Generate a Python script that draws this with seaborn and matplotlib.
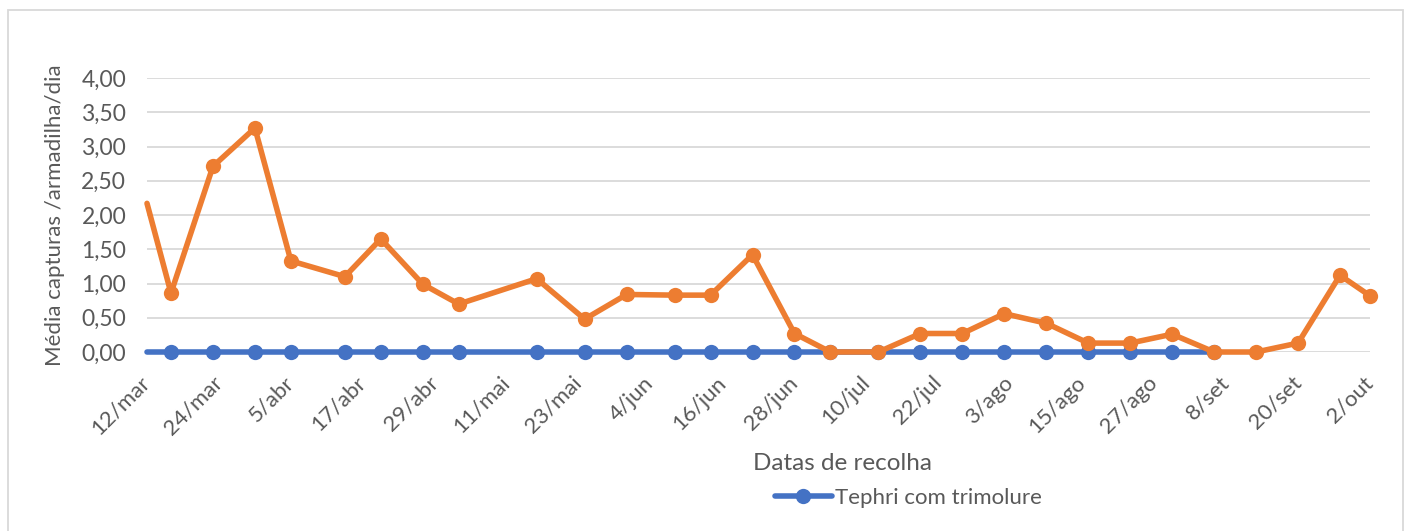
import matplotlib
matplotlib.use("Agg")
import matplotlib.pyplot as plt
from matplotlib.patches import Rectangle
import matplotlib.transforms as mtransforms
import seaborn as sns
import pandas as pd

# ---- data ----
orange_dates = ["2021-03-12", "2021-03-16", "2021-03-23", "2021-03-30", "2021-04-05",
                "2021-04-14", "2021-04-20", "2021-04-27", "2021-05-03", "2021-05-16",
                "2021-05-24", "2021-05-31", "2021-06-08", "2021-06-14", "2021-06-21",
                "2021-06-28", "2021-07-04", "2021-07-12", "2021-07-19", "2021-07-26",
                "2021-08-02", "2021-08-09", "2021-08-16", "2021-08-23", "2021-08-30",
                "2021-09-06", "2021-09-13", "2021-09-20", "2021-09-27", "2021-10-02"]
orange_values = [2.17, 0.86, 2.71, 3.27, 1.33, 1.10, 1.65, 0.99, 0.70, 1.07,
                 0.48, 0.84, 0.83, 0.83, 1.42, 0.27, 0.00, 0.00, 0.27, 0.27,
                 0.56, 0.42, 0.13, 0.13, 0.26, 0.00, 0.00, 0.13, 1.12, 0.82]

blue_dates = orange_dates[:26]
blue_values = [0.0] * 26
blue_label = "Tephri com trimolure"

tick_labels = ["12/mar", "24/mar", "5/abr", "17/abr", "29/abr", "11/mai", "23/mai",
               "4/jun", "16/jun", "28/jun", "10/jul", "22/jul", "3/ago", "15/ago",
               "27/ago", "8/set", "20/set", "2/out"]
x_start, x_end = "2021-03-12", "2021-10-02"
y_ticks = [0.0, 0.5, 1.0, 1.5, 2.0, 2.5, 3.0, 3.5, 4.0]

# ---- style ----
sns.set_theme(style="white")
plt.rcParams["font.family"] = ["Lato", "DejaVu Sans"]
txt = "#595959"
blue = "#4472C4"
orange = "#ED7D31"
grid = "#D9D9D9"

fig = plt.figure(figsize=(14.08, 5.31), dpi=100)
ax = fig.add_axes([147 / 1408, 1 - 352 / 531, (1370 - 147) / 1408, (352 - 78) / 531])

df_b = pd.DataFrame({"date": pd.to_datetime(blue_dates), "v": blue_values})
df_o = pd.DataFrame({"date": pd.to_datetime(orange_dates), "v": orange_values})

sns.lineplot(data=df_b, x="date", y="v", ax=ax, color=blue, linewidth=4.0, marker="o",
             markersize=11, markeredgewidth=0, label=blue_label,
             markevery=slice(1, None), zorder=3, clip_on=False)
sns.lineplot(data=df_o, x="date", y="v", ax=ax, color=orange, linewidth=4.0, marker="o",
             markersize=11, markeredgewidth=0, legend=False,
             markevery=slice(1, None), zorder=4, clip_on=False)

ax.set_xlim(pd.Timestamp(x_start), pd.Timestamp(x_end))
ax.set_ylim(0, 4)
tick_pos = pd.date_range(x_start, x_end, freq="12D")
ax.set_xticks(tick_pos)
ax.set_xticklabels(tick_labels, rotation=45, ha="right", va="center",
                   rotation_mode="anchor", fontsize=16, color=txt)
shift = mtransforms.ScaledTranslation(5 / 100, -2 / 100, fig.dpi_scale_trans)
for lbl in ax.get_xticklabels():
    lbl.set_transform(lbl.get_transform() + shift)
ax.set_yticks(y_ticks)
ax.set_yticklabels([f"{v:.2f}".replace(".", ",") for v in y_ticks],
                   fontsize=16.5, color=txt)
ax.tick_params(axis="x", length=0, pad=20)
ax.tick_params(axis="y", length=0, pad=15)
ax.yaxis.grid(True, color=grid, lw=1.3)
ax.set_axisbelow(True)
for s in ax.spines.values():
    s.set_visible(False)

ax.set_xlabel("Datas de recolha", fontsize=17.5, color=txt, labelpad=10)
ax.xaxis.label.set_x((842 - 147) / (1370 - 147))
ax.set_ylabel("Média capturas /armadilha/dia", fontsize=16, color=txt, labelpad=12)

leg = ax.legend(loc="center", bbox_to_anchor=(908 / 1408, 1 - 498 / 531),
                bbox_transform=fig.transFigure, frameon=False, fontsize=16,
                handlelength=2.6, handletextpad=0.1)
for t in leg.get_texts():
    t.set_color(txt)

fig.patches.append(Rectangle((8 / 1408, -0.1), (1403 - 8) / 1408, 1.1 - 10 / 531,
                             transform=fig.transFigure, fill=False,
                             edgecolor=grid, lw=1.3))

fig.savefig("out.png", dpi=100, facecolor="white")
